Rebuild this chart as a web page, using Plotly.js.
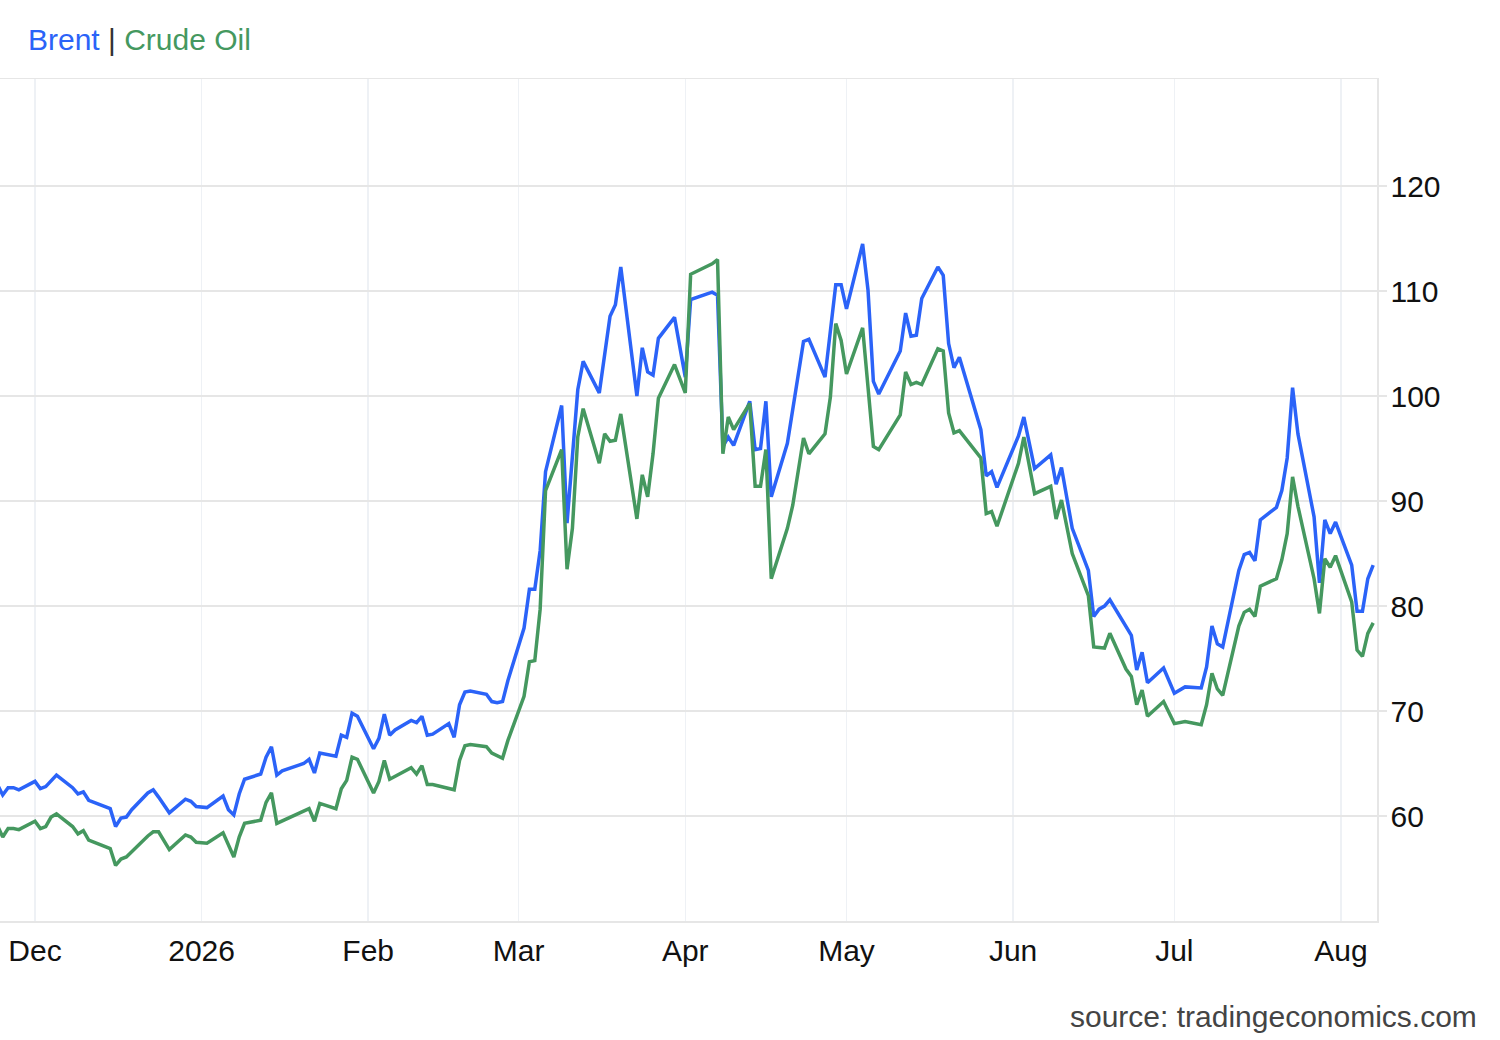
<!DOCTYPE html>
<html>
<head>
<meta charset="utf-8">
<title>Brent | Crude Oil</title>
<script src="https://cdn.plot.ly/plotly-3.0.1.min.js"></script>
<style>
    html, body { margin: 0; padding: 0; background: #ffffff; }
    #chart { width: 1500px; height: 1040px; }
</style>
</head>
<body>
<div id="chart"></div>
<script>
// Brent, daily close (USD/bbl)
const brentDates = [
    '2025-11-24', '2025-11-25', '2025-11-26', '2025-11-27', '2025-11-28',
    '2025-12-01', '2025-12-02', '2025-12-03', '2025-12-05', '2025-12-08',
    '2025-12-09', '2025-12-10', '2025-12-11', '2025-12-15', '2025-12-16',
    '2025-12-17', '2025-12-18', '2025-12-19', '2025-12-22', '2025-12-23',
    '2025-12-24', '2025-12-26', '2025-12-29', '2025-12-30', '2025-12-31',
    '2026-01-02', '2026-01-05', '2026-01-06', '2026-01-07', '2026-01-08',
    '2026-01-09', '2026-01-12', '2026-01-13', '2026-01-14', '2026-01-15',
    '2026-01-16', '2026-01-20', '2026-01-21', '2026-01-22', '2026-01-23',
    '2026-01-26', '2026-01-27', '2026-01-28', '2026-01-29', '2026-01-30',
    '2026-02-02', '2026-02-03', '2026-02-04', '2026-02-05', '2026-02-06',
    '2026-02-09', '2026-02-10', '2026-02-11', '2026-02-12', '2026-02-13',
    '2026-02-16', '2026-02-17', '2026-02-18', '2026-02-19', '2026-02-20',
    '2026-02-23', '2026-02-24', '2026-02-25', '2026-02-26', '2026-02-27',
    '2026-03-02', '2026-03-03', '2026-03-04', '2026-03-05', '2026-03-06',
    '2026-03-09', '2026-03-10', '2026-03-12', '2026-03-13', '2026-03-16',
    '2026-03-18', '2026-03-19', '2026-03-20', '2026-03-23', '2026-03-24',
    '2026-03-25', '2026-03-26', '2026-03-27', '2026-03-30', '2026-04-01',
    '2026-04-02', '2026-04-06', '2026-04-07', '2026-04-08', '2026-04-09',
    '2026-04-10', '2026-04-13', '2026-04-14', '2026-04-15', '2026-04-16',
    '2026-04-17', '2026-04-20', '2026-04-23', '2026-04-24', '2026-04-27',
    '2026-04-29', '2026-04-30', '2026-05-01', '2026-05-04', '2026-05-05',
    '2026-05-06', '2026-05-07', '2026-05-11', '2026-05-12', '2026-05-13',
    '2026-05-14', '2026-05-15', '2026-05-18', '2026-05-19', '2026-05-20',
    '2026-05-21', '2026-05-22', '2026-05-26', '2026-05-27', '2026-05-28',
    '2026-05-29', '2026-06-02', '2026-06-03', '2026-06-05', '2026-06-08',
    '2026-06-09', '2026-06-10', '2026-06-12', '2026-06-15', '2026-06-16',
    '2026-06-17', '2026-06-18', '2026-06-19', '2026-06-23', '2026-06-24',
    '2026-06-25', '2026-06-26', '2026-06-29', '2026-07-01', '2026-07-03',
    '2026-07-06', '2026-07-07', '2026-07-08', '2026-07-09', '2026-07-10',
    '2026-07-13', '2026-07-14', '2026-07-15', '2026-07-16', '2026-07-17',
    '2026-07-20', '2026-07-21', '2026-07-22', '2026-07-23', '2026-07-24',
    '2026-07-27', '2026-07-28', '2026-07-29', '2026-07-30', '2026-07-31',
    '2026-08-03', '2026-08-04', '2026-08-05', '2026-08-06', '2026-08-07'
];
const brentPrices = [
    63.0, 62.0, 62.7, 62.7, 62.5,
    63.3, 62.6, 62.8, 63.9, 62.7,
    62.1, 62.3, 61.5, 60.7, 59.0,
    59.8, 59.9, 60.6, 62.2, 62.5,
    61.8, 60.3, 61.6, 61.4, 60.9,
    60.8, 61.9, 60.6, 60.1, 62.1,
    63.5, 64.0, 65.6, 66.6, 63.9,
    64.3, 65.0, 65.4, 64.1, 66.0,
    65.7, 67.7, 67.5, 69.8, 69.5,
    66.4, 67.4, 69.7, 67.7, 68.2,
    69.1, 68.9, 69.5, 67.7, 67.8,
    68.8, 67.5, 70.6, 71.8, 71.9,
    71.6, 70.9, 70.8, 70.9, 72.9,
    77.9, 81.6, 81.6, 85.3, 92.8,
    99.1, 87.9, 100.6, 103.3, 100.3,
    107.6, 108.7, 112.3, 100.0, 104.6,
    102.3, 102.0, 105.5, 107.5, 101.8,
    109.2, 109.9, 109.6, 95.2, 96.1,
    95.3, 99.5, 94.9, 95.0, 99.5,
    90.4, 95.5, 105.2, 105.4, 101.8,
    110.6, 110.6, 108.3, 114.5, 110.1,
    101.4, 100.2, 104.3, 107.9, 105.7,
    105.8, 109.3, 112.3, 111.5, 105.0,
    102.7, 103.7, 96.8, 92.4, 92.8,
    91.3, 96.2, 98.0, 93.1, 94.4,
    91.6, 93.2, 87.4, 83.4, 79.0,
    79.7, 80.0, 80.6, 77.2, 73.9,
    75.6, 72.7, 74.1, 71.7, 72.3,
    72.2, 74.2, 78.1, 76.4, 76.1,
    83.4, 84.9, 85.1, 84.3, 88.2,
    89.4, 91.0, 94.1, 100.8, 96.4,
    88.5, 82.2, 88.2, 86.9, 88.0,
    83.9, 79.5, 79.5, 82.6, 83.9
];

// WTI crude oil, daily close (USD/bbl)
const crudeDates = [
    '2025-11-24', '2025-11-25', '2025-11-26', '2025-11-27', '2025-11-28',
    '2025-12-01', '2025-12-02', '2025-12-03', '2025-12-04', '2025-12-05',
    '2025-12-08', '2025-12-09', '2025-12-10', '2025-12-11', '2025-12-15',
    '2025-12-16', '2025-12-17', '2025-12-18', '2025-12-22', '2025-12-23',
    '2025-12-24', '2025-12-26', '2025-12-29', '2025-12-30', '2025-12-31',
    '2026-01-02', '2026-01-05', '2026-01-07', '2026-01-08', '2026-01-09',
    '2026-01-12', '2026-01-13', '2026-01-14', '2026-01-15', '2026-01-21',
    '2026-01-22', '2026-01-23', '2026-01-26', '2026-01-27', '2026-01-28',
    '2026-01-29', '2026-01-30', '2026-02-02', '2026-02-03', '2026-02-04',
    '2026-02-05', '2026-02-09', '2026-02-10', '2026-02-11', '2026-02-12',
    '2026-02-13', '2026-02-17', '2026-02-18', '2026-02-19', '2026-02-20',
    '2026-02-23', '2026-02-24', '2026-02-26', '2026-02-27', '2026-03-02',
    '2026-03-03', '2026-03-04', '2026-03-05', '2026-03-06', '2026-03-09',
    '2026-03-10', '2026-03-11', '2026-03-12', '2026-03-13', '2026-03-16',
    '2026-03-17', '2026-03-18', '2026-03-19', '2026-03-20', '2026-03-23',
    '2026-03-24', '2026-03-25', '2026-03-26', '2026-03-27', '2026-03-30',
    '2026-04-01', '2026-04-02', '2026-04-06', '2026-04-07', '2026-04-08',
    '2026-04-09', '2026-04-10', '2026-04-13', '2026-04-14', '2026-04-15',
    '2026-04-16', '2026-04-17', '2026-04-20', '2026-04-21', '2026-04-23',
    '2026-04-24', '2026-04-27', '2026-04-28', '2026-04-29', '2026-04-30',
    '2026-05-01', '2026-05-04', '2026-05-06', '2026-05-07', '2026-05-11',
    '2026-05-12', '2026-05-13', '2026-05-14', '2026-05-15', '2026-05-18',
    '2026-05-19', '2026-05-20', '2026-05-21', '2026-05-22', '2026-05-26',
    '2026-05-27', '2026-05-28', '2026-05-29', '2026-06-02', '2026-06-03',
    '2026-06-05', '2026-06-08', '2026-06-09', '2026-06-10', '2026-06-12',
    '2026-06-15', '2026-06-16', '2026-06-18', '2026-06-19', '2026-06-22',
    '2026-06-23', '2026-06-24', '2026-06-25', '2026-06-26', '2026-06-29',
    '2026-07-01', '2026-07-03', '2026-07-06', '2026-07-07', '2026-07-08',
    '2026-07-09', '2026-07-10', '2026-07-13', '2026-07-14', '2026-07-15',
    '2026-07-16', '2026-07-17', '2026-07-20', '2026-07-21', '2026-07-22',
    '2026-07-23', '2026-07-24', '2026-07-27', '2026-07-28', '2026-07-29',
    '2026-07-30', '2026-07-31', '2026-08-03', '2026-08-04', '2026-08-05',
    '2026-08-06', '2026-08-07'
];
const crudePrices = [
    59.1, 58.0, 58.8, 58.8, 58.7,
    59.5, 58.8, 59.0, 59.9, 60.2,
    59.0, 58.3, 58.6, 57.7, 56.9,
    55.3, 55.9, 56.1, 58.1, 58.5,
    58.5, 56.8, 58.2, 58.0, 57.5,
    57.4, 58.4, 56.1, 58.0, 59.3,
    59.6, 61.3, 62.2, 59.3, 60.7,
    59.5, 61.2, 60.7, 62.6, 63.4,
    65.6, 65.4, 62.2, 63.3, 65.3,
    63.5, 64.6, 64.0, 64.8, 63.0,
    63.0, 62.5, 65.3, 66.7, 66.8,
    66.6, 66.0, 65.5, 67.2, 71.4,
    74.7, 74.8, 79.7, 91.0, 94.9,
    83.5, 87.4, 96.1, 98.8, 93.6,
    96.4, 95.7, 95.8, 98.3, 88.3,
    92.5, 90.4, 94.5, 99.8, 103.0,
    100.3, 111.6, 112.6, 113.0, 94.5,
    98.0, 96.8, 99.3, 91.4, 91.4,
    94.9, 82.6, 87.4, 89.6, 96.0,
    94.5, 96.4, 99.9, 106.9, 105.3,
    102.1, 106.5, 95.2, 94.9, 98.2,
    102.3, 101.1, 101.3, 101.1, 104.5,
    104.3, 98.4, 96.5, 96.7, 94.1,
    88.8, 89.0, 87.6, 93.6, 96.1,
    90.7, 91.4, 88.3, 90.1, 85.0,
    81.0, 76.1, 76.0, 77.4, 74.0,
    73.3, 70.6, 72.0, 69.5, 70.9,
    68.8, 69.0, 68.7, 70.6, 73.6,
    72.1, 71.5, 78.1, 79.4, 79.7,
    79.0, 81.9, 82.6, 84.4, 86.9,
    92.3, 89.5, 82.6, 79.3, 84.5,
    83.7, 84.8, 80.4, 75.8, 75.2,
    77.4, 78.4
];

// Month ticks along the bottom
const monthTicks = ['2025-12-01', '2026-01-01', '2026-02-01', '2026-03-01', '2026-04-01',
    '2026-05-01', '2026-06-01', '2026-07-01', '2026-08-01'];
const monthLabels = ['Dec', '2026', 'Feb', 'Mar', 'Apr', 'May', 'Jun', 'Jul', 'Aug'];
const priceTicks = [60, 70, 80, 90, 100, 110, 120];

const Theme = {
    blue: '#2b63f8',
    green: '#45985f',
    text: '#111111',
    source: '#444444',
    grid: '#e6e6e6',
    gridX: '#eef1f5',
    font: '"Liberation Sans", Arial, Helvetica, sans-serif'
};

const traces = [
    {
        x: brentDates,
        y: brentPrices,
        type: 'scatter',
        mode: 'lines',
        name: 'Brent',
        line: { color: Theme.blue, width: 3.5 }
    },
    {
        x: crudeDates,
        y: crudePrices,
        type: 'scatter',
        mode: 'lines',
        name: 'Crude Oil',
        line: { color: Theme.green, width: 3.5 }
    }
];

const layout = {
    width: 1500,
    height: 1040,
    font: { family: Theme.font, size: 30, color: Theme.text },
    paper_bgcolor: '#ffffff',
    plot_bgcolor: '#ffffff',
    margin: { l: 0, r: 123, t: 79, b: 119 },
    showlegend: false,
    xaxis: {
        type: 'date',
        range: ['2025-11-24 11:50', '2026-08-07 17:00'],
        tickvals: monthTicks,
        ticktext: monthLabels,
        showgrid: true,
        gridcolor: Theme.gridX,
        gridwidth: 1.5,
        showline: true,
        mirror: true,
        linecolor: Theme.grid,
        linewidth: 1.5,
        ticks: 'outside',
        ticklen: 2,
        tickcolor: 'rgba(0,0,0,0)',
        zeroline: false,
        fixedrange: true
    },
    yaxis: {
        side: 'right',
        range: [50.0, 130.2],
        tickvals: priceTicks,
        showgrid: true,
        gridcolor: Theme.grid,
        gridwidth: 1.5,
        showline: true,
        linecolor: Theme.grid,
        linewidth: 1.5,
        ticks: 'outside',
        ticklen: 8,
        tickwidth: 1.5,
        tickcolor: Theme.grid,
        ticklabelshift: -6.5,
        ticklabelstandoff: -2,
        zeroline: false,
        fixedrange: true
    },
    annotations: [
        {
            xref: 'paper', yref: 'paper',
            x: 26 / 1377, y: 1 + (79 - 40) / 842,
            xanchor: 'left', yanchor: 'middle',
            showarrow: false,
            text: '<span style="color:' + Theme.blue + '">Brent</span>' +
                  '<span style="color:#333333"> | </span>' +
                  '<span style="color:' + Theme.green + '">Crude Oil</span>',
            font: { size: 30 }
        },
        {
            xref: 'paper', yref: 'paper',
            x: 1479 / 1377, y: (921 - 1016) / 842,
            xanchor: 'right', yanchor: 'middle',
            showarrow: false,
            text: 'source: tradingeconomics.com',
            font: { size: 30, color: Theme.source }
        }
    ]
};

Plotly.newPlot('chart', traces, layout, { displayModeBar: false, staticPlot: true });
</script>
</body>
</html>
